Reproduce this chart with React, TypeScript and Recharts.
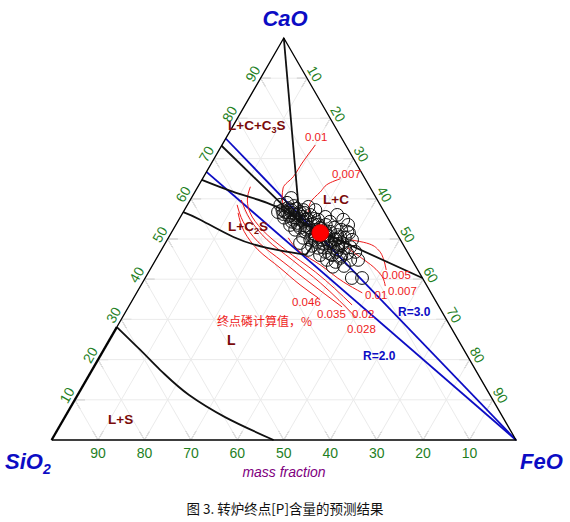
import React from "react";
import { ComposedChart, Scatter, XAxis, YAxis, ReferenceLine } from "recharts";

// ternary composition as [CaO, FeO] in mass %, SiO2 = 100 - CaO - FeO
type Comp = [number, number];
type Joint = "linear" | "natural" | "monotoneY";

const FONT = "Arial, 'Liberation Sans', sans-serif";
const CJK = "'Noto Sans CJK SC', sans-serif";
const GREEN = "#1f7f1f";
const BLUE = "#0c0cc4";
const RED = "#ee1c1c";
const DARKRED = "#7a0a0a";

const gridValues = [10, 20, 30, 40, 50, 60, 70, 80, 90];
const tickValues = [10, 20, 30, 40, 50, 60, 70, 80, 90];

const frame: Comp[] = [[0, 0], [0, 100], [100, 0], [0, 0]];

// phase boundaries
const boundaryApex: Comp[] = [[100, 0], [54.3, 26.3]];
const boundaryUpper: Comp[] = [[73.2, 0], [54.3, 26.3]];
const boundaryMiddle: Comp[] = [[64.7, 0], [61.7, 8.3], [59.0, 16.9], [57.2, 21.3], [54.3, 26.3]];
const boundaryLC: Comp[] = [[54.3, 26.3], [49.3, 38.1], [40.3, 59.7]];
const boundaryC2S: Comp[] = [
  [56.7, 0], [54.8, 4.6], [50.5, 13.9], [47.8, 22.5], [46.3, 30.4], [46.5, 31.8], [48.0, 31.9], [49.8, 31.4],
];
const boundaryLS: Comp[] = [[28.1, 0], [22.4, 7.9], [17.4, 14.7], [11.2, 24.0], [5.7, 34.5], [0, 47.8]];
const edgeLS: Comp[] = [[0, 0], [28.1, 0]];

// basicity lines CaO/SiO2
const basicityR3: Comp[] = [[75, 0], [0, 100]];
const basicityR2: Comp[] = [[66.7, 0], [0, 100]];

// calculated end-point [P] isolines
const p010a: Comp[] = [[73.4, 20.1], [68.9, 19.5], [65.5, 19.3], [62.7, 18.5], [60.5, 19.4], [58.0, 20.9]];
const p007a: Comp[] = [[65.0, 29.7], [64.0, 28.0], [61.7, 27.0], [59.0, 26.2], [56.7, 26.9]];
const p005: Comp[] = [[49.8, 39.4], [49.0, 43.3], [47.3, 46.7], [44.3, 49.5], [42.3, 50.9]];
const p007b: Comp[] = [[47.8, 39.8], [45.5, 43.7], [43.1, 47.7], [40.6, 50.9], [38.3, 52.7]];
const p010b: Comp[] = [[50.3, 25.8], [46.8, 30.1], [43.6, 36.0], [39.3, 43.2], [36.6, 48.6]];
const p020: Comp[] = [[63.0, 11.3], [59.7, 12.3], [56.5, 14.5], [52.3, 19.2], [47.3, 26.7], [41.8, 35.9], [33.6, 47.9]];
const p028: Comp[] = [[59.7, 11.0], [54.8, 15.4], [49.8, 21.5], [44.8, 29.4], [39.1, 38.3], [30.4, 50.4]];
const p035: Comp[] = [[58.5, 10.7], [54.3, 14.1], [49.3, 19.8], [44.3, 27.7], [39.1, 36.1], [33.1, 46.0]];
const p046: Comp[] = [[56.5, 11.9], [51.8, 15.6], [47.3, 20.8], [42.8, 27.8], [38.6, 34.2], [35.3, 39.8]];

// measured slag compositions
const samples: Comp[] = [
  [60.2, 21.5], [57.2, 25.6], [57.2, 28.2], [55.5, 31.2], [56.0, 33.5], [54.8, 35.4], [53.5, 37.1], [51.8, 37.8],
  [50.5, 36.9], [48.0, 40.3], [46.5, 40.4], [44.8, 43.6], [44.8, 41.9], [43.1, 39.0], [40.3, 44.5], [40.3, 46.7],
  [44.8, 36.9], [58.5, 20.0], [56.7, 22.0], [54.3, 24.6], [52.8, 27.1], [49.8, 30.8], [47.8, 33.5], [46.8, 35.5],
  [46.0, 37.4], [45.3, 39.5], [56.0, 24.7], [54.8, 27.2], [53.5, 29.3], [52.8, 31.4], [51.8, 34.1], [49.8, 36.4],
  [48.5, 38.3], [49.0, 35.1], [51.0, 31.3], [51.8, 28.7], [53.5, 26.3], [56.0, 23.4], [57.7, 22.0], [56.7, 25.1],
  [56.0, 27.7], [54.8, 30.0], [53.5, 32.3], [52.8, 34.5], [50.3, 38.0], [47.3, 38.0], [49.8, 33.4], [48.3, 31.9],
  [50.3, 29.0], [52.3, 26.3], [55.3, 22.4], [57.2, 21.1], [58.2, 23.1], [58.0, 26.3], [54.3, 32.8], [49.8, 39.8],
  [46.8, 42.0], [44.3, 39.0], [46.0, 34.8], [47.3, 31.6], [49.0, 29.0], [53.5, 24.6], [56.7, 20.4], [43.3, 41.3],
  [51.0, 33.6], [52.3, 30.8], [53.3, 28.1], [55.0, 25.8], [56.5, 23.5], [59.0, 21.2], [49.8, 31.7], [48.0, 34.3],
  [48.3, 35.8], [48.8, 37.3], [52.3, 36.2], [51.5, 38.3],
  [56.7, 22.4], [57.2, 23.0], [55.3, 24.8], [56.2, 25.2], [54.3, 27.0], [55.0, 27.5], [52.8, 29.1], [53.8, 29.4],
  [51.8, 31.3], [52.5, 31.8], [50.3, 33.6], [50.8, 34.2], [49.3, 35.6], [50.0, 36.1], [48.0, 37.7], [49.0, 38.1],
  [54.0, 25.9], [55.5, 26.2], [52.0, 29.9], [50.5, 32.4], [49.8, 34.5], [47.8, 36.8], [54.8, 24.6], [52.3, 28.7],
  [49.3, 32.3], [55.7, 23.3], [50.8, 30.7], [48.8, 34.1], [46.8, 37.9], [47.8, 39.3], [56.2, 21.8], [56.5, 26.2],
  [55.0, 29.1], [52.0, 32.9], [51.0, 36.0], [57.5, 23.9], [53.5, 30.7], [46.5, 36.5], [45.8, 39.5],
];
const predicted: Comp[] = [[51.5, 32.1]];

// plot space: x runs along the SiO2-FeO base, y is the CaO height (aspect fixed by the plot box)
const toXY = ([cao, feo]: Comp) => ({ x: feo + cao / 2, y: cao });

// grid families drawn as zigzags; the connecting pieces run along the frame
const gridCaO: Comp[] = gridValues.flatMap((c, i): Comp[] =>
  i % 2 ? [[c, 100 - c], [c, 0]] : [[c, 0], [c, 100 - c]]
);
const gridFeO: Comp[] = gridValues.flatMap((f, i): Comp[] =>
  i % 2 ? [[100 - f, f], [0, f]] : [[0, f], [100 - f, f]]
);
const gridSiO2: Comp[] = gridValues.flatMap((s, i): Comp[] =>
  i % 2 ? [[0, 100 - s], [100 - s, 0]] : [[100 - s, 0], [0, 100 - s]]
);

const gridEnds: [Comp, Comp, number][] = gridValues.flatMap((v): [Comp, Comp, number][] => [
  [[v, 0], [v, 100 - v], v],
  [[v, 100 - v], [v, 0], v],
  [[0, v], [100 - v, v], v],
  [[100 - v, v], [0, v], v],
  [[100 - v, 0], [0, 100 - v], v],
  [[0, 100 - v], [100 - v, 0], v],
]);
const ticks = gridEnds.map(([a, b, v]) => {
  const p = toXY(a);
  const q = toXY(b);
  const t = 2.2 / (100 - v);
  return [p, { x: p.x + (q.x - p.x) * t, y: p.y + (q.y - p.y) * t }];
});

const leftLabels = tickValues.map((v) => ({ ...toXY([v, 0]), v }));
const rightLabels = tickValues.map((v) => ({ ...toXY([100 - v, v]), v }));
const bottomLabels = tickValues.map((v) => ({ ...toXY([0, 100 - v]), v }));

const noDot = () => <g />;

function path(key: string, pts: Comp[], stroke: string, width: number, joint: Joint = "linear") {
  const data = pts.map(toXY);
  if (joint === "monotoneY") data.sort((a, b) => a.y - b.y);
  return (
    <Scatter
      key={key}
      data={data}
      line={{ stroke, strokeWidth: width }}
      lineJointType={joint}
      shape={noDot}
      fill="none"
      legendType="none"
      isAnimationActive={false}
    />
  );
}

const tickText = (dx: number, dy: number, rot: number) => (p: any) => {
  const x = p.cx + dx;
  const y = p.cy + dy;
  return (
    <text
      x={x}
      y={y}
      transform={`rotate(${rot} ${x} ${y})`}
      textAnchor="middle"
      dominantBaseline="central"
      fill={GREEN}
      fontSize={14}
      fontFamily={FONT}
    >
      {p.payload?.v}
    </text>
  );
};

const redLabels: [string, number, number][] = [
  ["0.01", 305, 141],
  ["0.007", 332, 178],
  ["0.005", 382, 279],
  ["0.007", 388, 295],
  ["0.01", 365, 299],
  ["0.046", 292, 306],
  ["0.035", 317, 318],
  ["0.02", 352, 318],
  ["0.028", 347, 333],
];

export default function App() {
  return (
    <div style={{ position: "absolute", left: 0, top: 0, width: 570, height: 522, background: "#fff" }}>
      <ComposedChart width={570} height={522} margin={{ top: 38, left: 51.6, right: 54, bottom: 82 }}>
        <XAxis type="number" dataKey="x" domain={[0, 100]} hide />
        <YAxis type="number" dataKey="y" domain={[0, 100]} hide />
        {path("gc", gridCaO, "#ebebeb", 1)}
        {path("gf", gridFeO, "#ebebeb", 1)}
        {path("gs", gridSiO2, "#ebebeb", 1)}
        {ticks.map((seg, i) => (
          <ReferenceLine key={`t${i}`} segment={seg} stroke="#9a9a9a" strokeWidth={1} ifOverflow="visible" />
        ))}
        {path("r3", basicityR3, BLUE, 1.8)}
        {path("r2", basicityR2, BLUE, 1.8)}
        {path("p010a", p010a, RED, 1, "monotoneY")}
        {path("p007a", p007a, RED, 1, "monotoneY")}
        {path("p005", p005, RED, 1, "monotoneY")}
        {path("p007b", p007b, RED, 1, "monotoneY")}
        {path("p010b", p010b, RED, 1, "monotoneY")}
        {path("p020", p020, RED, 1, "monotoneY")}
        {path("p028", p028, RED, 1, "monotoneY")}
        {path("p035", p035, RED, 1, "monotoneY")}
        {path("p046", p046, RED, 1, "monotoneY")}
        {path("ba", boundaryApex, "#111", 1.8)}
        {path("bu", boundaryUpper, "#111", 1.8)}
        {path("bm", boundaryMiddle, "#111", 1.8, "monotoneY")}
        {path("blc", boundaryLC, "#111", 1.8)}
        {path("bc2s", boundaryC2S, "#111", 1.8, "natural")}
        {path("bls", boundaryLS, "#111", 1.8, "monotoneY")}
        {path("els", edgeLS, "#111", 2.4)}
        {path("frame", frame, "#000", 1.3)}
        <Scatter
          data={samples.map(toXY)}
          shape={(p: any) => <circle cx={p.cx} cy={p.cy} r={6.4} fill="none" stroke="#111" strokeWidth={1} />}
          legendType="none"
          isAnimationActive={false}
        />
        <Scatter
          data={predicted.map(toXY)}
          shape={(p: any) => <circle cx={p.cx} cy={p.cy} r={8.3} fill="#ff0000" stroke="#e00000" />}
          legendType="none"
          isAnimationActive={false}
        />
        <Scatter data={leftLabels} shape={tickText(-7.8, -4.5, -60)} legendType="none" isAnimationActive={false} />
        <Scatter data={rightLabels} shape={tickText(7.8, -4.5, 60)} legendType="none" isAnimationActive={false} />
        <Scatter data={bottomLabels} shape={tickText(0, 13, 0)} legendType="none" isAnimationActive={false} />
      </ComposedChart>

      <svg
        width={570}
        height={522}
        style={{ position: "absolute", left: 0, top: 0, pointerEvents: "none" }}
        fontFamily={FONT}
      >
        <text x={285} y={26} textAnchor="middle" fontSize={22} fontWeight="bold" fontStyle="italic" fill={BLUE}>
          CaO
        </text>
        <text x={5} y={469} fontSize={22} fontWeight="bold" fontStyle="italic" fill={BLUE}>
          SiO<tspan fontSize={14} dy={5}>2</tspan>
        </text>
        <text x={520} y={469} fontSize={22} fontWeight="bold" fontStyle="italic" fill={BLUE}>
          FeO
        </text>
        <text x={284} y={477} textAnchor="middle" fontSize={14} fontStyle="italic" fill="#800080">
          mass fraction
        </text>

        <g fontWeight="bold" fontSize={13.5} fill={DARKRED}>
          <text x={228} y={130}>
            L+C+C<tspan fontSize={9} dy={3}>3</tspan>
            <tspan dy={-3}>S</tspan>
          </text>
          <text x={323} y={204}>L+C</text>
          <text x={228} y={231}>
            L+C<tspan fontSize={9} dy={3}>2</tspan>
            <tspan dy={-3}>S</tspan>
          </text>
          <text x={227} y={345} fontSize={14}>L</text>
          <text x={108} y={424}>L+S</text>
        </g>

        <g fontWeight="bold" fontSize={12} fill={BLUE}>
          <text x={398} y={316}>R=3.0</text>
          <text x={363} y={360}>R=2.0</text>
        </g>

        <g fontSize={11.5} fill={RED}>
          {redLabels.map(([t, x, y], i) => (
            <text key={i} x={x} y={y}>
              {t}
            </text>
          ))}
          <text x={217} y={326} fontSize={12} fontFamily={CJK}>
            终点磷计算值，%
          </text>
        </g>

        <text x={285} y={514} textAnchor="middle" fontSize={13.5} fontFamily={CJK} fill="#111">
          图 3. 转炉终点[P]含量的预测结果
        </text>
      </svg>
    </div>
  );
}
